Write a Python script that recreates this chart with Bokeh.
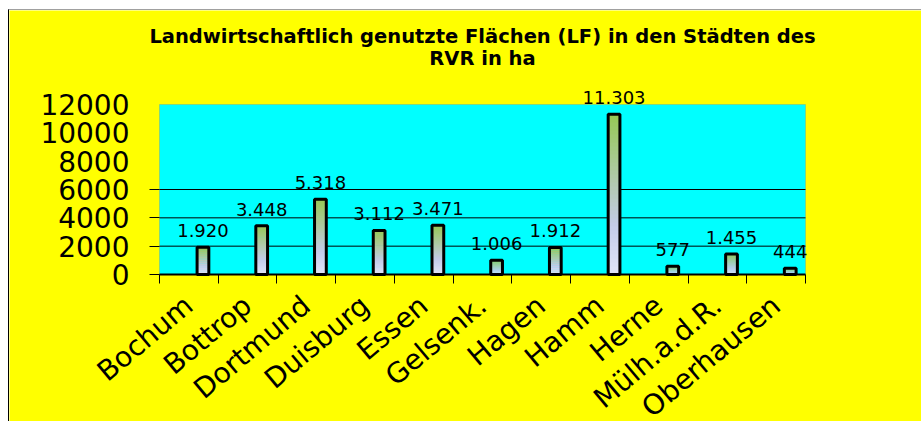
import numpy as np
from bokeh.plotting import figure
from bokeh.layouts import column, row
from bokeh.models import (Range1d, FixedTicker, ColumnDataSource, LabelSet, Label,
                          BoxAnnotation, Spacer)
from bokeh.core.properties import value
from bokeh.embed import file_html
from bokeh.resources import INLINE

# ---------------- data ----------------
cities = ["Bochum", "Bottrop", "Dortmund", "Duisburg", "Essen", "Gelsenk.",
          "Hagen", "Hamm", "Herne", "Mülh.a.d.R.", "Oberhausen"]
values = [1920, 3448, 5318, 3112, 3471, 1006, 1912, 11303, 577, 1455, 444]
value_labels = [f"{v:,}".replace(",", ".") for v in values]
y_ticks = [0, 2000, 4000, 6000, 8000, 10000, 12000]
y_tick_marks = [0, 2000, 4000, 6000]
grid_values = [2000, 4000, 6000]
title_line1 = "Landwirtschaftlich genutzte Flächen (LF) in den Städten des"
title_line2 = "RVR in ha"

FONT = "DejaVu Sans"
n = len(cities)
bar_offset = 0.24
bar_width = 0.2
y_max = y_ticks[-1]

# ---------------- layout geometry (pixels inside the figure) ----------------
W, H = 913, 412
box_left, box_right = 150, 796          # cyan plot box, horizontally
axis_y, box_h = 264, 170                # x axis position and box height
title_base1, title_base2 = 25.5, 47.5   # title baselines

px_x = (box_right - box_left) / n
x_start = -0.5 - box_left / px_x
x_end = (n - 0.5) + (W - box_right) / px_x
px_y = box_h / y_max
y_end = axis_y / px_y
y_start = -(H - axis_y) / px_y

p = figure(width=W, height=H, output_backend="svg", toolbar_location=None,
           title=None,
           x_range=Range1d(x_start, x_end), y_range=Range1d(y_start, y_end),
           min_border_left=0, min_border_right=0,
           min_border_top=0, min_border_bottom=0)
p.background_fill_color = "#FFFF00"
p.border_fill_color = "#FFFF00"
p.outline_line_color = None
p.styles = {"border-left": "1px solid #000000", "border-top": "1px solid #a0a0a0"}

# cyan plot box from 0 to the top tick
p.add_layout(BoxAnnotation(left=-0.5, right=n - 0.5, bottom=0, top=y_max,
                           fill_color="#00FFFF", fill_alpha=1.0,
                           line_color="#808080", line_width=1, level="image"))

# horizontal grid lines inside the box
p.segment(x0=[-0.5] * len(grid_values), x1=[n - 0.5] * len(grid_values),
          y0=grid_values, y1=grid_values, line_color="black", line_width=1)

# gradient bars (slices computed from the values)
N = 40
stops_t = [0.0, 0.3, 1.0]
stops_c = [(226, 230, 248), (196, 204, 234), (150, 200, 85)]
def grad(t):
    r = np.interp(t, stops_t, [c[0] for c in stops_c])
    g = np.interp(t, stops_t, [c[1] for c in stops_c])
    b = np.interp(t, stops_t, [c[2] for c in stops_c])
    return "#%02x%02x%02x" % (int(r), int(g), int(b))

L, R, B, T, C = [], [], [], [], []
for i, v in enumerate(values):
    xc = i + bar_offset
    for k in range(N):
        L.append(xc - bar_width / 2)
        R.append(xc + bar_width / 2)
        B.append(v * k / N)
        T.append(min(v, v * (k + 1.6) / N))
        C.append(grad((k + 0.5) / N))
p.quad(left=L, right=R, bottom=B, top=T, fill_color=C, line_color=None)

bar_x = [i + bar_offset for i in range(n)]
src = ColumnDataSource(dict(x=bar_x, top=values, label=value_labels))
p.vbar(x="x", top="top", bottom=0, width=bar_width, source=src,
       fill_color=None, line_color="black", line_width=3)

labels = LabelSet(x="x", y="top", text="label", source=src,
                  text_align="center", text_baseline="alphabetic", y_offset=10,
                  text_font=value(FONT), text_font_size=value("18px"),
                  text_color="black")
p.add_layout(labels)

p.xgrid.visible = False
p.ygrid.visible = False

# y axis, pinned at the left edge of the box
ya = p.yaxis[0]
ya.fixed_location = -0.5
ya.bounds = (0, y_max)
ya.ticker = FixedTicker(ticks=y_ticks, minor_ticks=y_tick_marks)
ya.major_label_overrides = {t: str(t) for t in y_ticks}
ya.axis_line_color = None
ya.major_tick_out = 0
ya.major_tick_in = 0
ya.minor_tick_out = 10
ya.minor_tick_in = 0
ya.minor_tick_line_color = "black"
ya.major_label_standoff = 20
ya.major_label_text_font = FONT
ya.major_label_text_font_size = "28px"
ya.major_label_text_color = "black"

# x axis, pinned at y = 0, only as wide as the box
xa = p.xaxis[0]
xa.fixed_location = 0
xa.bounds = (-0.5, n - 0.5)
xa.ticker = FixedTicker(ticks=list(range(n)), minor_ticks=[i - 0.5 for i in range(n + 1)])
xa.major_label_overrides = {i: c for i, c in enumerate(cities)}
xa.axis_line_color = "black"
xa.axis_line_width = 2
xa.major_tick_out = 0
xa.major_tick_in = 0
xa.minor_tick_out = 9
xa.minor_tick_in = 0
xa.minor_tick_line_color = "black"
xa.major_label_orientation = 0.70
xa.major_label_standoff = 18
xa.major_label_text_font = FONT
xa.major_label_text_font_size = "28px"
xa.major_label_text_color = "black"

# title (two lines), centred over the plot box
title_x = (n - 1) / 2
for txt, base in [(title_line1, title_base1), (title_line2, title_base2)]:
    p.add_layout(Label(x=title_x, y=(axis_y - base) / px_y, text=txt,
                       text_align="center", text_baseline="alphabetic",
                       text_font=FONT, text_font_size="19.5px",
                       text_font_style="bold", text_color="black"))

layout = column(Spacer(height=9), row(Spacer(width=8), p))
open("out.html", "w").write(file_html(layout, INLINE))
